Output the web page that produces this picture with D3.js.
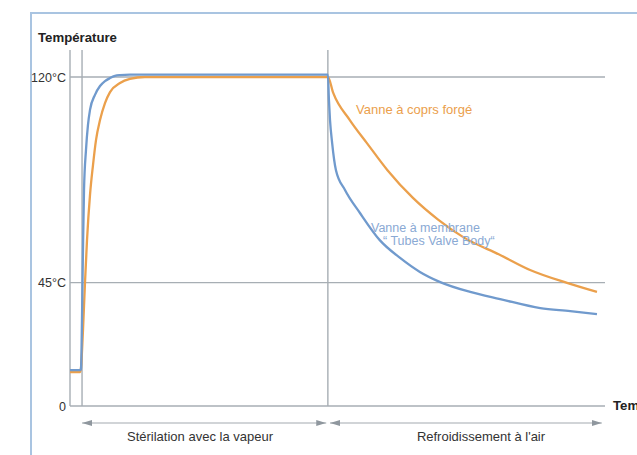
<!DOCTYPE html>
<html><head><meta charset="utf-8">
<script src="https://cdn.jsdelivr.net/npm/d3@7"></script>
<style>html,body{margin:0;padding:0;background:#fff;overflow:hidden}svg{display:block}</style>
</head><body>
<svg id="c" width="637" height="455"></svg>
<script>
// Data (time in arbitrary minutes, temperature in °C)
const yTicks = [0, 45, 120];
const yTickLabels = ["0", "45°C", "120°C"];
const phaseLabels = ["Stérilation avec la vapeur", "Refroidissement à l'air"];
const phaseBounds = [2.3, 48.2, 98.5];
const seriesNames = ["Vanne à coprs forgé", "Vanne à membrane", "“ Tubes Valve Body“"];
const blueT = [0, 1.9, 2.05, 2.15, 2.3, 2.45, 2.62, 2.99, 3.36, 3.74, 4.67, 5.61, 6.54, 7.48, 8.41, 9.35, 11.2, 48.2,
  48.4, 48.6, 49.0, 49.7, 51.4, 54.2, 57.9, 61.7, 65.4, 69.2, 74.8, 80.4, 87.9, 93.5, 98.5];
const blueV = [13.1, 13.1, 13.5, 20, 40, 60, 78.8, 93.4, 102.5, 108, 113.5, 116.7, 118.5, 119.6, 120.4, 120.7, 120.9, 120.9,
  111.6, 104.3, 95.9, 86.1, 78.8, 70.4, 60.5, 54.0, 48.9, 45.2, 41.6, 39.0, 35.7, 34.6, 33.5];
const orangeT = [0, 1.9, 2.05, 2.43, 2.80, 3.18, 3.74, 4.30, 4.86, 5.61, 6.54, 7.48, 9.35, 11.2, 14.0, 48.2,
  49.2, 52.3, 55.5, 59.3, 64.1, 68.8, 73.5, 80.4, 86.0, 92.9, 98.5];
const orangeV = [12.4, 12.4, 13.9, 27.7, 44.9, 60.5, 77, 87.9, 97, 104.3, 110.5, 114.5, 117.8, 119.3, 120, 120,
  114.2, 104.3, 95.9, 86.1, 75.9, 68.0, 61.6, 55.1, 49.6, 44.9, 41.6];

const svg = d3.select("#c");
const x = d3.scaleLinear().domain([0, 100]).range([70, 605]);
const y = d3.scaleLinear().domain([0, 120]).range([406, 77]);
const grid = "#a7aeb4", blue = "#709acd", orange = "#eba04c";
const font = "'Liberation Sans', Arial, sans-serif";

// frame
svg.append("path").attr("d", "M31,455V13H637").attr("fill", "none").attr("stroke", "#a9c4e1").attr("stroke-width", 2);

// horizontal grid lines
svg.selectAll(".g").data(yTicks).join("line")
  .attr("x1", x(0)).attr("x2", x(100)).attr("y1", d => y(d)).attr("y2", d => y(d))
  .attr("stroke", grid).attr("stroke-width", 1.4);
// vertical lines
[0, phaseBounds[0] - 0.05, phaseBounds[1]].forEach(t => {
  svg.append("line").attr("x1", x(t)).attr("x2", x(t)).attr("y1", 50).attr("y2", y(0))
    .attr("stroke", grid).attr("stroke-width", 1.4);
});
// tick labels
svg.selectAll(".tl").data(yTicks).join("text")
  .attr("x", 66).attr("y", d => y(d) + 4.5).attr("text-anchor", "end")
  .attr("font-family", font).attr("font-size", 12.5).attr("fill", "#333")
  .text((d, i) => yTickLabels[i]);
svg.append("text").attr("x", 38).attr("y", 42).attr("font-family", font).attr("font-weight", "bold")
  .attr("font-size", 13.2).attr("fill", "#222").text("Température");
svg.append("text").attr("x", 613).attr("y", 410).attr("font-family", font).attr("font-weight", "bold")
  .attr("font-size", 13.2).attr("fill", "#222").text("Temps");

// arrows
const defs = svg.append("defs");
defs.append("marker").attr("id", "ah").attr("viewBox", "0 0 10 6").attr("refX", 10).attr("refY", 3)
  .attr("markerWidth", 10).attr("markerHeight", 6).attr("markerUnits", "userSpaceOnUse").attr("orient", "auto-start-reverse")
  .append("path").attr("d", "M0,0L10,3L0,6Z").attr("fill", "#8f979e");
const ay = 423;
[[phaseBounds[0] - 0.05, phaseBounds[1] - 0.3], [phaseBounds[1] + 0.4, 99.4]].forEach((p, i) => {
  svg.append("line").attr("x1", x(p[0])).attr("x2", x(p[1])).attr("y1", ay).attr("y2", ay)
    .attr("stroke", "#a3aab0").attr("stroke-width", 1.2)
    .attr("marker-start", "url(#ah)").attr("marker-end", "url(#ah)");
  svg.append("text").attr("x", i === 0 ? 200 : 481).attr("y", 441).attr("text-anchor", "middle")
    .attr("font-family", font).attr("font-size", 13).attr("fill", "#333").text(phaseLabels[i]);
});

// curves
const line = d3.line().x(d => x(d[0])).y(d => y(d[1])).curve(d3.curveMonotoneX);
svg.append("path").datum(orangeT.map((t, i) => [t, orangeV[i]])).attr("d", line)
  .attr("fill", "none").attr("stroke", orange).attr("stroke-width", 2.3);
svg.append("path").datum(blueT.map((t, i) => [t, blueV[i]])).attr("d", line)
  .attr("fill", "none").attr("stroke", blue).attr("stroke-width", 2.3);

// series labels
svg.append("text").attr("x", 356).attr("y", 114).attr("font-family", font).attr("font-size", 13)
  .attr("fill", "#eba04c").text(seriesNames[0]);
svg.append("text").attr("x", 371).attr("y", 232).attr("font-family", font).attr("font-size", 12.5)
  .attr("fill", "#8aa9d4").text(seriesNames[1]);
svg.append("text").attr("x", 383).attr("y", 245).attr("font-family", font).attr("font-size", 12.5)
  .attr("fill", "#8aa9d4").text(seriesNames[2]);
</script>
</body></html>
